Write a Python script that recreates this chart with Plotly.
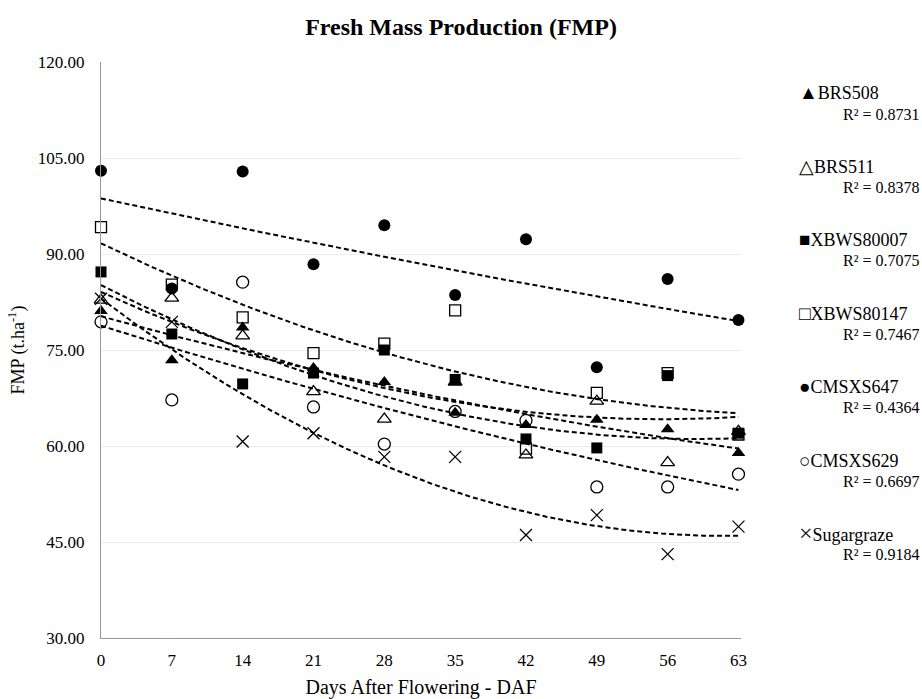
import numpy as np
import plotly.graph_objects as go

# ---- data ----
days = [0, 7, 14, 21, 28, 35, 42, 49, 56, 63]
brs508 = [81.1, 73.4, 78.5, 72.2, 70.0, 65.2, 63.3, 64.1, 62.6, 58.9]
brs511 = [82.8, 83.1, 77.2, 68.5, 64.2, 70.0, 58.6, 67.0, 57.4, 62.3]
xbws80007 = [87.2, 77.5, 69.7, 71.4, 75.0, 70.4, 61.1, 59.7, 71.0, 62.0]
xbws80147 = [94.2, 85.2, 80.1, 74.5, 76.0, 81.2, 59.6, 68.3, 71.4, 61.8]
cmsxs647 = [103.0, 84.6, 102.9, 88.4, 94.5, 83.6, 92.3, 72.3, 86.1, 79.7]
cmsxs629 = [79.4, 67.2, 85.6, 66.1, 60.3, 65.4, 64.0, 53.6, 53.6, 55.6]
sugargraze = [83.0, 79.4, 60.7, 62.0, 58.3, 58.3, 46.1, 49.2, 43.1, 47.4]

series_names = ["BRS508", "BRS511", "XBWS80007", "XBWS80147", "CMSXS647", "CMSXS629", "Sugargraze"]
series_values = [brs508, brs511, xbws80007, xbws80147, cmsxs647, cmsxs629, sugargraze]
r2_labels = ["0.8731", "0.8378", "0.7075", "0.7467", "0.4364", "0.6697", "0.9184"]
legend_glyphs = ["▲", "△", "■", "□", "●", "○", "×"]

y_ticks = [30, 45, 60, 75, 90, 105, 120]

# ---- styles ----
FONT = "Liberation Serif, Times New Roman, serif"
symbols = ["triangle-up", "triangle-up-open", "square", "square-open",
           "circle", "circle-open", "x-thin-open"]
sizes = [12, 12, 11, 11, 12, 12, 12]
glyph_sizes = [19, 19, 19, 19, 19, 19, 24]

fig = go.Figure()

xs = np.array(days, dtype=float)
xfit = np.linspace(0, 63, 200)
for vals in series_values:
    coef = np.polyfit(xs, np.array(vals, dtype=float), 2)
    fig.add_trace(go.Scatter(
        x=xfit, y=np.polyval(coef, xfit), mode="lines",
        line=dict(color="black", width=2, dash="5px,3px"),
        showlegend=False, hoverinfo="skip"))

for name, vals, sym, sz in zip(series_names, series_values, symbols, sizes):
    is_open = sym.endswith("open")
    fig.add_trace(go.Scatter(
        x=days, y=vals, mode="markers", name=name, showlegend=False,
        cliponaxis=False,
        marker=dict(symbol=sym, size=sz, color="black",
                    line=dict(color="#222222", width=1.3 if is_open else 0))))

# manual legend on the right
top_px = 93
step_px = 73.4
for i, (g, name, r2, gs) in enumerate(zip(legend_glyphs, series_names, r2_labels, glyph_sizes)):
    ypx = top_px + i * step_px
    fig.add_annotation(
        xref="paper", yref="paper",
        x=(797 - 101) / 640, y=(638 - ypx) / 576,
        xanchor="left", yanchor="middle", showarrow=False,
        text=f"<span style='font-size:{gs}px'>{g}</span>{name}",
        font=dict(family=FONT, size=18, color="black"))
    fig.add_annotation(
        xref="paper", yref="paper",
        x=(922 - 101) / 640, y=(638 - ypx - 21) / 576,
        xanchor="right", yanchor="middle", showarrow=False,
        text=f"R² = {r2}", font=dict(family=FONT, size=16, color="black"))

fig.update_layout(
    width=922, height=699,
    margin=dict(l=101, r=181, t=62, b=61, autoexpand=False),
    paper_bgcolor="white", plot_bgcolor="white",
    font=dict(family=FONT, size=17, color="black"),
    title=dict(text="<b>Fresh Mass Production (FMP)</b>",
               x=0.5, xanchor="center", xref="container",
               y=1 - 27 / 699, yref="container", yanchor="middle",
               font=dict(family=FONT, size=24, color="black")),
    showlegend=False,
    xaxis=dict(range=[0, 63.25], tickmode="array", tickvals=days,
               ticktext=[str(d) for d in days],
               showgrid=False, zeroline=False, automargin=False,
               showline=True, linecolor="#999999", linewidth=1,
               ticks="outside", ticklen=7, tickcolor="rgba(0,0,0,0)",
               tickfont=dict(family=FONT, size=17),
               title=dict(text="Days After Flowering - DAF",
                          font=dict(family=FONT, size=20), standoff=11)),
    yaxis=dict(range=[30, 120], tickmode="array", tickvals=y_ticks,
               ticktext=[f"{v:.2f}" for v in y_ticks],
               showgrid=True, gridcolor="#ececec", gridwidth=1,
               zeroline=False, automargin=False,
               showline=True, linecolor="#999999", linewidth=1,
               ticks="outside", ticklen=12, tickcolor="rgba(0,0,0,0)",
               tickfont=dict(family=FONT, size=17),
               title=dict(text="FMP (t.ha<sup>-1</sup>)",
                          font=dict(family=FONT, size=18), standoff=8)),
)

fig.write_html(
    "out.html",
    config={"displayModeBar": False},
    post_script="document.body.style.margin='0';document.body.style.padding='0';",
)
